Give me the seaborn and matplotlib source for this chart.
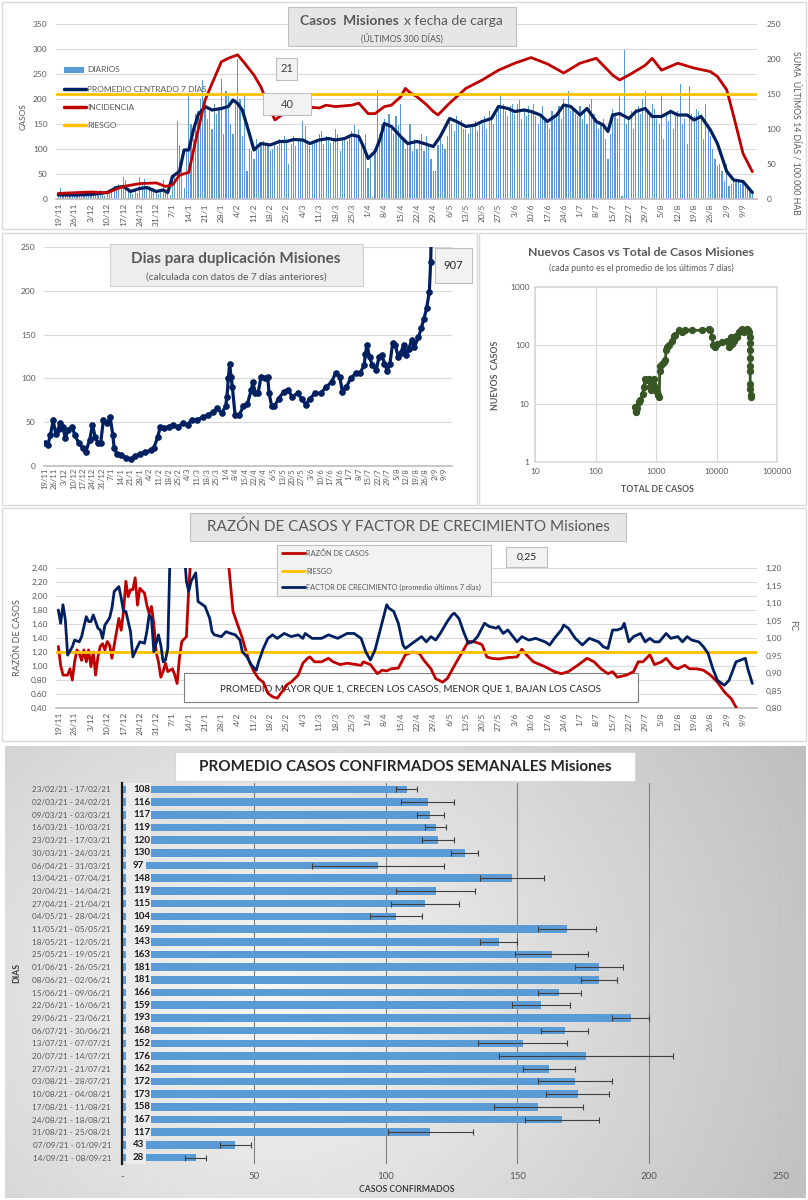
#%%
import numpy as np
import pandas as pd
import seaborn as sns
import matplotlib
matplotlib.use('Agg')
import matplotlib.pyplot as plt
from matplotlib.patches import Rectangle
from matplotlib.lines import Line2D
from matplotlib.ticker import FuncFormatter, NullLocator

#%% datos (dia = dias desde 19/11/2020)
inicio = pd.Timestamp('2020-11-19')

diarios = [
    10, 22, 5, 8, 6, 9, 7,            # 19/11
    6, 9, 12, 5, 8, 10, 7,            # 26/11
    12, 9, 15, 8, 18, 10, 6,          # 3/12
    14, 12, 20, 25, 18, 30, 27,       # 10/12
    44, 38, 22, 15, 10, 18, 12,       # 17/12
    44, 28, 40, 20, 25, 18, 22,       # 24/12
    15, 10, 18, 38, 14, 20, 8,        # 31/12
    35, 50, 155, 108, 60, 22, 95,     # 7/1
    210, 150, 120, 170, 175, 200, 237,  # 14/1
    185, 160, 175, 140, 190, 170, 180,  # 21/1
    240, 130, 215, 205, 150, 130, 190,  # 28/1
    280, 200, 125, 205, 55, 100, 95,    # 4/2
    80, 120, 100, 110, 115, 108, 105,   # 11/2
    95, 100, 110, 105, 120, 112, 125,   # 18/2
    120, 70, 110, 125, 105, 118, 115,   # 25/2
    155, 145, 110, 105, 112, 118, 120,  # 4/3
    130, 135, 110, 125, 120, 112, 118,  # 11/3
    140, 130, 95, 120, 118, 115, 122,   # 18/3
    135, 148, 130, 140, 120, 95, 130,   # 25/3
    62, 80, 4, 100, 218, 130, 150,      # 1/4
    160, 150, 170, 140, 130, 165, 148,  # 8/4
    190, 120, 100, 110, 150, 95, 120,   # 15/4
    100, 118, 130, 95, 125, 110, 80,    # 22/4
    55, 55, 108, 120, 110, 100, 125,    # 29/4
    160, 150, 135, 165, 150, 158, 140,  # 6/5
    140, 130, 150, 145, 155, 135, 148,  # 13/5
    150, 165, 140, 175, 160, 150, 170,  # 20/5
    180, 205, 190, 175, 165, 185, 190,  # 27/5
    170, 190, 198, 160, 180, 165, 185,  # 3/6
    175, 190, 165, 150, 170, 185, 155,  # 10/6
    150, 140, 175, 160, 170, 185, 160,  # 17/6
    200, 190, 215, 175, 180, 170, 165,  # 24/6
    185, 160, 175, 150, 190, 200, 170,  # 1/7
    160, 140, 150, 160, 120, 80, 130,   # 8/7
    180, 170, 160, 210, 5, 298, 150,    # 15/7
    160, 175, 140, 180, 185, 170, 200,  # 22/7
    215, 175, 165, 190, 180, 160, 150,  # 29/7
    210, 120, 170, 155, 180, 140, 165,  # 5/8
    175, 230, 150, 160, 110, 225, 170,  # 12/8
    165, 180, 175, 170, 120, 190, 150,  # 19/8
    125, 100, 80, 65, 70, 55, 35,       # 26/8
    70, 25, 30, 38, 35, 35, 30,         # 2/9
    38, 25, 30, 22, 15,                 # 9/9
]

prom_dia = [0, 7, 14, 21, 25, 28, 31, 35, 38, 42, 45, 47, 49, 52, 54, 56, 58, 60, 63, 66,
            70, 73, 75, 77, 79, 82, 84, 87, 91, 95, 98, 101, 105, 108, 112, 116, 119, 123,
            126, 129, 131, 133, 136, 138, 140, 143, 147, 150, 154, 157, 161, 164, 168, 171,
            175, 179, 182, 186, 189, 193, 196, 200, 203, 207, 210, 214, 217, 220, 224, 227,
            231, 234, 236, 238, 241, 245, 248, 252, 255, 259, 263, 266, 270, 273, 276, 280,
            283, 287, 290, 294, 298]
prom_val = [8, 8, 9, 13, 23, 25, 15, 21, 23, 15, 18, 13, 45, 55, 98, 98, 138, 168, 185, 178,
            181, 185, 198, 191, 178, 131, 98, 111, 108, 115, 115, 119, 118, 111, 118, 121, 118, 121,
            128, 125, 105, 81, 95, 118, 151, 145, 125, 111, 115, 111, 105, 125, 161, 155,
            145, 148, 155, 161, 185, 181, 175, 178, 175, 168, 155, 168, 188, 185, 168, 181,
            155, 148, 135, 168, 171, 161, 175, 181, 165, 165, 175, 168, 168, 158, 165, 138,
            111, 55, 38, 35, 13]

inc_dia = [0, 7, 14, 21, 28, 35, 42, 46, 49, 52, 56, 59, 63, 66, 70, 73, 77, 80, 84, 87, 91,
           93, 98, 105, 112, 115, 119, 126, 129, 133, 136, 140, 143, 147, 149, 151, 154, 158,
           161, 163, 168, 175, 182, 189, 196, 203, 210, 217, 224, 231, 238, 241, 245, 252,
           255, 259, 266, 273, 280, 283, 287, 290, 294, 298]
inc_val = [8, 9, 10, 9, 18, 22, 23, 18, 20, 34, 38, 84, 141, 165, 196, 201, 206, 194, 177, 160,
           127, 113, 125, 132, 130, 134, 132, 134, 137, 122, 122, 132, 134, 146, 158, 152, 146,
           135, 125, 120, 137, 158, 170, 184, 194, 202, 193, 180, 194, 201, 177, 170, 177, 191,
           201, 184, 194, 187, 182, 175, 156, 118, 65, 39]
riesgo_inc = 150

dup_dia = [0, 2, 4, 6, 8, 10, 11, 13, 15, 17, 20, 22, 25, 28, 30, 33, 35, 37, 39, 41, 43, 46,
           48, 50, 51, 53, 56, 60, 63, 66, 70, 74, 78, 80, 83, 85, 88, 91, 94, 98, 102, 105,
           108, 112, 116, 120, 124, 127, 130, 133, 134, 135, 136, 137, 138, 140, 143, 146,
           149, 152, 153, 155, 157, 159, 162, 164, 165, 167, 169, 172, 176, 179, 182, 186,
           189, 192, 195, 199, 203, 207, 211, 214, 217, 219, 222, 225, 229, 232, 235, 236,
           237, 239, 241, 244, 246, 248, 250, 252, 254, 256, 258, 260, 262, 264, 266, 268,
           270, 272, 275, 277, 279, 281, 283, 284, 285, 286]
dup_val = [26, 24, 35, 52, 37, 42, 49, 45, 32, 41, 45, 35, 26, 20, 16, 30, 47, 33, 26, 26, 52, 49,
           56, 35, 20, 14, 13, 9, 8, 11, 14, 16, 18, 20, 33, 45, 43, 45, 47, 45, 49, 47,
           53, 52, 56, 58, 62, 66, 60, 68, 79, 100, 117, 102, 90, 58, 58, 68,
           71, 87, 96, 83, 83, 102, 100, 102, 83, 68, 68, 77, 85, 87, 79, 83,
           77, 70, 77, 83, 83, 90, 96, 106, 102, 85, 90, 100, 106, 106, 115, 128,
           138, 125, 115, 110, 125, 127, 117, 109, 117, 140, 138, 125, 129, 138, 127, 134,
           144, 136, 147, 157, 168, 180, 199, 233, 300, 907]

total_casos = [454, 460, 470, 490, 516, 550, 601, 625, 666, 710, 755, 805, 837, 881, 927, 975,
               1039, 1080, 1136, 1150, 1180, 1257, 1340, 1428, 1465, 1521, 1622, 1842, 1963,
               2091, 2376, 2698, 3063, 3951, 5785, 7464, 7955, 8475, 8810, 9380, 10250, 12410,
               15030, 16000, 17060, 18190, 19380, 20650, 22010, 23460, 25000, 26630, 28380,
               30240, 32230, 33480, 34340, 35220, 35500, 35670, 35800, 35900, 36000, 36130,
               36300, 36600, 36700]
nuevos_casos = [8.8, 7.5, 7.2, 8.5, 10.7, 11.4, 14.8, 19, 27, 25, 27, 19, 17, 22, 27, 19,
                16, 14, 13, 37, 45, 48, 52, 55, 82, 93, 100, 119, 147,
                150, 181, 169, 184, 181, 181, 193, 181, 139, 100, 93, 105, 112,
                119, 93, 139, 105, 119, 147, 139, 169, 181, 193, 169,
                181, 193, 181, 169, 139, 110, 82, 60, 45, 37, 22,
                18, 14, 13]

raz_dia = [0, 1, 2, 4, 5, 6, 7, 8, 9, 10, 11, 12, 13, 14, 15, 16, 17, 18, 19, 20, 21, 22, 23,
           24, 25, 26, 27, 28, 29, 30, 31, 32, 33, 34, 35, 37, 38, 39, 40, 41, 42, 43, 44, 45,
           46, 47, 49, 50, 51, 52, 53, 55, 56, 57, 60, 65, 70, 73, 75, 77, 79, 80, 82, 84, 86,
           88, 90, 92, 94, 96, 98, 100, 103, 105, 107, 108, 110, 113, 116, 118, 121, 124, 128,
           130, 131, 134, 137, 139, 141, 143, 146, 149, 152, 155, 157, 160, 162, 165, 167, 169,
           171, 174, 176, 178, 181, 182, 184, 186, 189, 193, 197, 199, 201, 204, 209, 213, 216,
           219, 223, 227, 230, 233, 236, 238, 240, 244, 247, 249, 251, 254, 256, 259, 261, 264,
           266, 269, 271, 274, 277, 280, 283, 286, 289, 291, 294, 298]
raz_val = [1.28, 1.01, 0.87, 0.87, 0.96, 0.80, 1.06, 1.23, 1.18, 1.08, 1.23, 1.06, 1.23, 0.99,
           1.20, 0.87, 1.13, 1.28, 1.32, 1.23, 1.35, 1.30, 1.11, 1.30, 1.49, 1.68, 1.51, 1.78,
           2.21, 1.99, 2.09, 2.09, 2.26, 1.87, 2.11, 2.04, 1.87, 1.75, 1.85, 1.61, 1.20, 1.06,
           0.84, 0.92, 1.04, 0.92, 0.96, 0.87, 0.75, 1.11, 1.35, 1.42, 2.11, 2.60, 3.40, 3.80,
           3.20, 2.50, 1.78, 1.59, 1.40, 1.28, 1.06, 0.92, 0.82, 0.77, 0.61, 0.56, 0.54, 0.63,
           0.73, 0.77, 0.87, 1.04, 1.11, 1.13, 1.06, 1.06, 1.11, 1.06, 1.02, 1.04, 1.02, 1.01,
           1.06, 1.02, 0.89, 0.94, 0.93, 0.96, 0.97, 1.16, 1.20, 1.18, 1.08, 0.96, 0.82, 0.77,
           0.82, 0.94, 1.06, 1.23, 1.35, 1.35, 1.32, 1.30, 1.13, 1.11, 1.10, 1.12, 1.13, 1.24,
           1.16, 1.06, 0.99, 0.92, 0.89, 0.92, 1.01, 1.11, 1.06, 0.96, 0.89, 0.92, 0.84, 0.87,
           0.92, 1.06, 1.06, 1.16, 1.02, 1.06, 1.11, 0.99, 0.96, 1.01, 0.96, 0.96, 0.94, 0.87,
           0.77, 0.63, 0.53, 0.41, 0.25, 0.15]
riesgo_raz = 1.20

fc_dia = [0, 1, 2, 3, 4, 6, 7, 9, 10, 12, 13, 14, 15, 17, 18, 19, 20, 22, 23, 24, 26, 27, 28,
          29, 31, 32, 33, 35, 37, 38, 39, 40, 41, 43, 44, 45, 46, 47, 48, 50, 53, 55, 56, 57,
          59, 60, 62, 63, 65, 66, 67, 70, 72, 74, 76, 78, 79, 81, 83, 85, 86, 88, 90, 92, 94,
          97, 100, 103, 105, 106, 109, 113, 116, 120, 124, 127, 130, 132, 134, 136, 138, 141,
          142, 144, 146, 148, 149, 152, 155, 156, 158, 160, 162, 164, 167, 169, 170, 172, 174,
          176, 178, 180, 183, 185, 188, 189, 191, 193, 197, 199, 202, 205, 209, 211, 213, 216,
          217, 219, 222, 225, 228, 232, 234, 236, 238, 240, 242, 243, 245, 247, 250, 252, 254,
          256, 258, 261, 263, 266, 268, 270, 272, 275, 277, 279, 281, 283, 286, 288, 291, 293,
          295, 296, 298]
fc_val = [1.080, 1.042, 1.095, 1.052, 0.951, 0.975, 0.994, 0.989, 1.004, 1.061, 1.047, 1.047,
          1.066, 1.028, 1.023, 0.999, 1.037, 1.057, 1.085, 1.133, 1.147, 1.114, 1.076, 1.076,
          1.018, 0.946, 0.961, 0.989, 0.985, 1.018, 1.066, 1.057, 0.961, 1.009, 0.980, 0.932,
          0.937, 0.970, 1.250, 1.400, 1.350, 1.162, 1.133, 1.162, 1.186, 1.104, 1.095, 1.090,
          1.056, 1.018, 1.009, 1.004, 1.018, 1.013, 1.009, 0.994, 0.961, 0.946, 0.922, 0.908,
          0.932, 0.970, 0.999, 1.009, 0.999, 1.013, 1.004, 1.009, 0.999, 1.013, 0.999, 0.999,
          1.009, 0.999, 1.013, 1.013, 0.999, 0.961, 0.937, 0.966, 1.018, 1.095, 1.085, 1.076,
          1.042, 0.980, 0.970, 0.985, 0.999, 1.004, 0.989, 1.004, 0.994, 1.013, 1.047, 1.066,
          1.071, 1.056, 1.018, 0.985, 0.989, 1.004, 1.042, 1.033, 1.028, 1.033, 1.013, 1.023,
          0.989, 1.004, 0.994, 0.999, 0.989, 0.980, 0.999, 1.023, 1.037, 1.028, 0.999, 0.980,
          0.999, 0.989, 0.975, 0.970, 1.023, 1.023, 1.028, 1.042, 0.989, 1.004, 1.013, 0.989,
          0.999, 0.989, 0.989, 1.013, 0.999, 1.004, 0.989, 1.004, 0.994, 0.989, 0.975, 0.956,
          0.913, 0.879, 0.865, 0.879, 0.932, 0.937, 0.942, 0.913, 0.870]

semanas = ['23/02/21 - 17/02/21', '02/03/21 - 24/02/21', '09/03/21 - 03/03/21',
           '16/03/21 - 10/03/21', '23/03/21 - 17/03/21', '30/03/21 - 24/03/21',
           '06/04/21 - 31/03/21', '13/04/21 - 07/04/21', '20/04/21 - 14/04/21',
           '27/04/21 - 21/04/21', '04/05/21 - 28/04/21', '11/05/21 - 05/05/21',
           '18/05/21 - 12/05/21', '25/05/21 - 19/05/21', '01/06/21 - 26/05/21',
           '08/06/21 - 02/06/21', '15/06/21 - 09/06/21', '22/06/21 - 16/06/21',
           '29/06/21 - 23/06/21', '06/07/21 - 30/06/21', '13/07/21 - 07/07/21',
           '20/07/21 - 14/07/21', '27/07/21 - 21/07/21', '03/08/21 - 28/07/21',
           '10/08/21 - 04/08/21', '17/08/21 - 11/08/21', '24/08/21 - 18/08/21',
           '31/08/21 - 25/08/21', '07/09/21 - 01/09/21', '14/09/21 - 08/09/21']
prom_semanal = [108, 116, 117, 119, 120, 130, 97, 148, 119, 115, 104, 169, 143, 163, 181,
                181, 166, 159, 193, 168, 152, 176, 162, 172, 173, 158, 167, 117, 43, 28]
err_semanal = [4, 10, 5, 4, 6, 5, 25, 12, 15, 13, 10, 11, 7, 14, 9,
               7, 8, 11, 7, 9, 17, 33, 10, 14, 12, 17, 14, 16, 6, 4]

#%% estilo
sns.set_theme(style='white')
plt.rcParams['font.family'] = ['Lato', 'DejaVu Sans']

W, H = 808, 1200
GRIS = '#595959'
AZUL = '#002060'
ROJO = '#c00000'
NARANJA = '#ffc000'
CELESTE = '#5b9bd5'
VERDE = '#375623'
GRILLA = '#d9d9d9'

fig = plt.figure(figsize=(W / 100, H / 100), dpi=100)


def rect(x0, y0, x1, y1):
    return [x0 / W, 1 - y1 / H, (x1 - x0) / W, (y1 - y0) / H]


def caja(x0, y0, x1, y1, fc='#e7e6e6', ec='#bfbfbf', z=2.5, lw=0.8):
    fig.add_artist(Rectangle((x0 / W, 1 - y1 / H), (x1 - x0) / W, (y1 - y0) / H,
                             transform=fig.transFigure, fc=fc, ec=ec, lw=lw, zorder=z))


def texto(x, y, s, **kw):
    kw.setdefault('ha', 'center')
    kw.setdefault('va', 'center')
    kw.setdefault('zorder', 4)
    fig.text(x / W, 1 - y / H, s, **kw)


def linea(x0, x1, y, color, lw=2.2):
    fig.add_artist(Line2D([x0 / W, x1 / W], [1 - y / H] * 2, color=color, lw=lw,
                          transform=fig.transFigure, zorder=4))


def fechas_eje(ax, size, pad):
    ticks = list(range(0, 295, 7))
    labels = [f'{d.day}/{d.month}' for d in inicio + pd.to_timedelta(ticks, 'D')]
    ax.set_xticks(ticks)
    ax.set_xticklabels(labels, rotation=90, fontsize=size, color=GRIS)
    ax.tick_params(axis='x', length=0, pad=pad)


def limpiar(ax):
    for s in ['top', 'right', 'left']:
        ax.spines[s].set_visible(False)
    ax.spines['bottom'].set_color('#bfbfbf')
    ax.set_xlabel('')
    ax.set_ylabel('')


coma = FuncFormatter(lambda v, p: f'{v:.2f}'.replace('.', ','))

# marcos de los paneles
for x0, y0, x1, y1 in [(2, 2, 806, 229), (2, 233, 477, 505), (479, 233, 806, 505),
                       (2, 508, 806, 741)]:
    caja(x0, y0, x1, y1, fc='white', ec=GRILLA, z=-5, lw=1)

#%% panel 1: casos diarios
ax1 = fig.add_axes(rect(56, 24, 757, 199))
ax1.set_facecolor('none')
sns.barplot(x=np.arange(len(diarios)), y=diarios, native_scale=True, color=CELESTE,
            saturation=1, width=0.5, errorbar=None, linewidth=0, ax=ax1)
sns.lineplot(x=prom_dia, y=prom_val, color=AZUL, lw=2.3, ax=ax1)
ax1.set_xlim(-1, 300)
ax1.set_ylim(0, 350)
ax1.set_yticks(range(0, 351, 50))
ax1.yaxis.grid(True, color=GRILLA, lw=0.8)
ax1.set_axisbelow(True)
ax1.tick_params(axis='y', labelsize=6, colors=GRIS, length=0, pad=6)
fechas_eje(ax1, 6, 3)
limpiar(ax1)

ax1b = ax1.twinx()
sns.lineplot(x=inc_dia, y=inc_val, color=ROJO, lw=2, ax=ax1b)
ax1b.axhline(riesgo_inc, color=NARANJA, lw=2)
ax1b.set_ylim(0, 250)
ax1b.set_yticks(range(0, 251, 50))
ax1b.tick_params(axis='y', labelsize=6, colors=GRIS, length=0, pad=7)
for s in ax1b.spines.values():
    s.set_visible(False)
ax1b.set_ylabel('')

texto(23, 117, 'CASOS', rotation=90, fontsize=6, color=GRIS)
texto(796, 133, 'SUMA  ÚLTIMOS 14 DÍAS / 100.000 HAB', rotation=-90, fontsize=6.3, color=GRIS)

caja(288, 7, 516, 46)
texto(399, 21, 'Casos  Misiones', ha='right', fontsize=10, fontweight='bold', color=GRIS)
texto(404, 21, 'x fecha de carga', ha='left', fontsize=10, color=GRIS)
texto(402, 38, '(ÚLTIMOS 300 DÍAS)', fontsize=6.3, color=GRIS)

fig.add_artist(Rectangle((64 / W, 1 - 73 / H), 20 / W, 6 / H, transform=fig.transFigure,
                         fc=CELESTE, ec='none', zorder=4))
linea(64, 86, 89, AZUL, 2.5)
linea(64, 86, 107, ROJO, 2.5)
linea(64, 86, 125, NARANJA, 2.5)
for yy, lab in [(70, 'DIARIOS'), (89, 'PROMEDIO CENTRADO 7 DÍAS'), (107, 'INCIDENCIA'), (125, 'RIESGO')]:
    texto(87, yy, lab, ha='left', fontsize=6, color=GRIS)

caja(276, 58, 297, 80, fc='#f2f2f2')
texto(286.5, 69, '21', fontsize=8, color='#404040')
caja(263, 93, 311, 115, fc='#f2f2f2')
texto(287, 104, '40', fontsize=8, color='#404040')

#%% panel 2: dias para duplicacion
ax2 = fig.add_axes(rect(44, 247, 452, 466))
ax2.set_facecolor('none')
sns.lineplot(x=dup_dia, y=dup_val, color=AZUL, lw=2.3, marker='o', markersize=4,
             markeredgecolor=AZUL, ax=ax2)
ax2.set_xlim(-0.7, 299.7)
ax2.set_ylim(0, 250)
ax2.set_yticks(range(0, 251, 50))
ax2.yaxis.grid(True, color=GRILLA, lw=0.8)
ax2.set_axisbelow(True)
ax2.tick_params(axis='y', labelsize=6, colors=GRIS, length=0, pad=6)
fechas_eje(ax2, 5.5, 1.5)
limpiar(ax2)

caja(110, 244, 363, 286, fc='#ededed', ec='#d0d0d0')
texto(236, 259, 'Dias para duplicación Misiones', fontsize=11, fontweight='bold', color=GRIS)
texto(236, 277, '(calculada con datos de 7 días anteriores)', fontsize=7.2, color=GRIS)
caja(435, 248, 472, 283, fc='#f2f2f2', ec='#bfbfbf')
texto(453.5, 265.5, str(dup_val[-1]), fontsize=8, color='#262626')

#%% panel 3: nuevos vs total
ax3 = fig.add_axes(rect(535, 287, 777, 462))
ax3.set_facecolor('none')
sns.lineplot(x=total_casos, y=nuevos_casos, sort=False, estimator=None, color=VERDE, lw=2,
             marker='o', markersize=4.5, markeredgecolor=VERDE, ax=ax3)
ax3.set_xscale('log')
ax3.set_yscale('log')
ax3.set_xlim(10, 100000)
ax3.set_ylim(1, 1000)
ax3.xaxis.set_minor_locator(NullLocator())
ax3.yaxis.set_minor_locator(NullLocator())
entero = FuncFormatter(lambda v, p: f'{int(round(v))}')
ax3.xaxis.set_major_formatter(entero)
ax3.yaxis.set_major_formatter(entero)
ax3.grid(True, color=GRILLA, lw=0.8)
ax3.set_axisbelow(True)
ax3.tick_params(labelsize=6, colors=GRIS, length=0, pad=4)
for s in ax3.spines.values():
    s.set_color(GRILLA)
ax3.set_xlabel('')
ax3.set_ylabel('')
texto(641, 253, 'Nuevos Casos vs Total de Casos Misiones', fontsize=8.8, fontweight='bold', color=GRIS)
texto(641, 268, '(cada punto es el promedio de los últimos 7 días)', fontsize=6.2, color=GRIS)
texto(657, 489, 'TOTAL DE CASOS', fontsize=6.3, fontweight='bold', color=GRIS)
texto(496, 375, 'NUEVOS  CASOS', rotation=90, fontsize=6.3, fontweight='bold', color=GRIS)

#%% panel 4: razon de casos y factor de crecimiento
ax4 = fig.add_axes(rect(56, 568, 757, 708))
ax4.set_facecolor('none')
ax4.add_patch(Rectangle(((184 - 56) / 701, (708 - 702) / 140), (638 - 184) / 701, 29 / 140,
                        transform=ax4.transAxes, fc='white', ec='#7f7f7f', lw=0.8, zorder=1.5))
ax4.text((411 - 56) / 701, (708 - 689) / 140,
         'PROMEDIO MAYOR QUE 1, CRECEN LOS CASOS, MENOR QUE 1, BAJAN LOS CASOS',
         transform=ax4.transAxes, ha='center', va='center', fontsize=7, color='#262626', zorder=1.6)
sns.lineplot(x=raz_dia, y=raz_val, color=ROJO, lw=2, ax=ax4, zorder=3)
ax4.axhline(riesgo_raz, color=NARANJA, lw=2, zorder=3)
ax4.set_xlim(-1, 300)
ax4.set_ylim(0.4, 2.4)
ax4.set_yticks(np.arange(0.4, 2.41, 0.2))
ax4.yaxis.set_major_formatter(coma)
ax4.yaxis.grid(True, color=GRILLA, lw=0.8)
ax4.set_axisbelow(True)
ax4.tick_params(axis='y', labelsize=6, colors=GRIS, length=0, pad=6)
fechas_eje(ax4, 6, 3)
limpiar(ax4)

ax4b = ax4.twinx()
sns.lineplot(x=fc_dia, y=fc_val, color=AZUL, lw=2, ax=ax4b)
ax4b.set_ylim(0.8, 1.2)
ax4b.set_yticks(np.arange(0.8, 1.201, 0.05))
ax4b.yaxis.set_major_formatter(coma)
ax4b.tick_params(axis='y', labelsize=6, colors=GRIS, length=0, pad=6)
for s in ax4b.spines.values():
    s.set_visible(False)
ax4b.set_ylabel('')

texto(18, 638, 'RAZÓN DE CASOS', rotation=90, fontsize=6.5, color=GRIS)
texto(793, 625, 'FC', rotation=-90, fontsize=6.5, color=GRIS)

caja(190, 513, 626, 541)
texto(408, 527, 'RAZÓN DE CASOS Y FACTOR DE CRECIMIENTO Misiones', fontsize=11, color=GRIS)
caja(277, 545, 491, 596, fc='#f2f2f2', ec='#bfbfbf')
linea(282, 305, 553, ROJO, 2)
linea(282, 305, 571, NARANJA, 2)
linea(282, 305, 587, AZUL, 2)
texto(306, 553, 'RAZÓN DE CASOS', ha='left', fontsize=5.3, color=GRIS)
texto(306, 571, 'RIESGO', ha='left', fontsize=5.3, color=GRIS)
texto(306, 587, 'FACTOR DE CRECIMIENTO (promedio últimos 7 días)', ha='left', fontsize=5.3, color=GRIS)
caja(506, 547, 547, 567, fc='#f2f2f2', ec='#bfbfbf')
texto(526.5, 557, '0,25', fontsize=7.5, color='#262626')

#%% panel 5: promedio semanal
bg = fig.add_axes(rect(5, 746, 806, 1198))
gx, gy = np.meshgrid(np.linspace(0, 1, 300), np.linspace(0, 1, 200))
r = np.sqrt(((gx - 0.33) / 0.67) ** 2 + ((gy - 0.55) / 1.1) ** 2)
bg.imshow(np.clip(0.97 - 0.2 * r, 0, 1), cmap='gray', vmin=0, vmax=1, aspect='auto',
          extent=[0, 1, 0, 1])
bg.axis('off')
bg.set_zorder(-1)

ax5 = fig.add_axes(rect(122.2, 783, 780.7, 1164))
ax5.set_facecolor('none')
sns.barplot(x=prom_semanal, y=semanas, orient='h', color=CELESTE, saturation=1, width=0.6,
            errorbar=None, linewidth=0, ax=ax5)
pos = np.arange(len(semanas))
ax5.errorbar(prom_semanal, pos, xerr=err_semanal, fmt='none', ecolor='#3f3f3f',
             elinewidth=0.8, capsize=2.2, capthick=0.8, zorder=3)
for i, v in enumerate(prom_semanal):
    ancho = 10.9 if v >= 100 else 9.0
    ax5.add_patch(Rectangle((1.4, i - 0.5), ancho - 1.4, 1, fc='#ececec', ec='none', zorder=3.5))
    ax5.text(4.1, i, str(v), ha='left', va='center', fontsize=7, fontweight='bold',
             color='#1a1a1a', zorder=4)
ax5.set_xlim(0, 250)
ax5.set_ylim(len(semanas) - 0.5, -0.5)
ax5.set_xticks(range(0, 251, 50))
ax5.set_xticklabels(['-', '50', '100', '150', '200', '250'])
ax5.xaxis.grid(True, color='#7f7f7f', lw=0.8)
ax5.set_axisbelow(True)
ax5.tick_params(axis='x', labelsize=7, colors=GRIS, length=0, pad=6)
ax5.tick_params(axis='y', labelsize=5.9, colors=GRIS, length=0, pad=8)
for s in ['top', 'right', 'bottom']:
    ax5.spines[s].set_visible(False)
ax5.spines['left'].set_color('#1a1a1a')
ax5.spines['left'].set_linewidth(1.6)
ax5.set_xlabel('')
ax5.set_ylabel('')

caja(175, 752, 635, 781, fc='white', ec=GRILLA)
texto(405, 767, 'PROMEDIO CASOS CONFIRMADOS SEMANALES Misiones', fontsize=11,
      fontweight='bold', color='#262626')
texto(407, 1189, 'CASOS CONFIRMADOS', fontsize=6.2, fontweight='bold', color='#404040')
texto(17, 973, 'DIAS', rotation=90, fontsize=6.2, fontweight='bold', color='#404040')

fig.savefig('out.png', dpi=100, facecolor='white')
